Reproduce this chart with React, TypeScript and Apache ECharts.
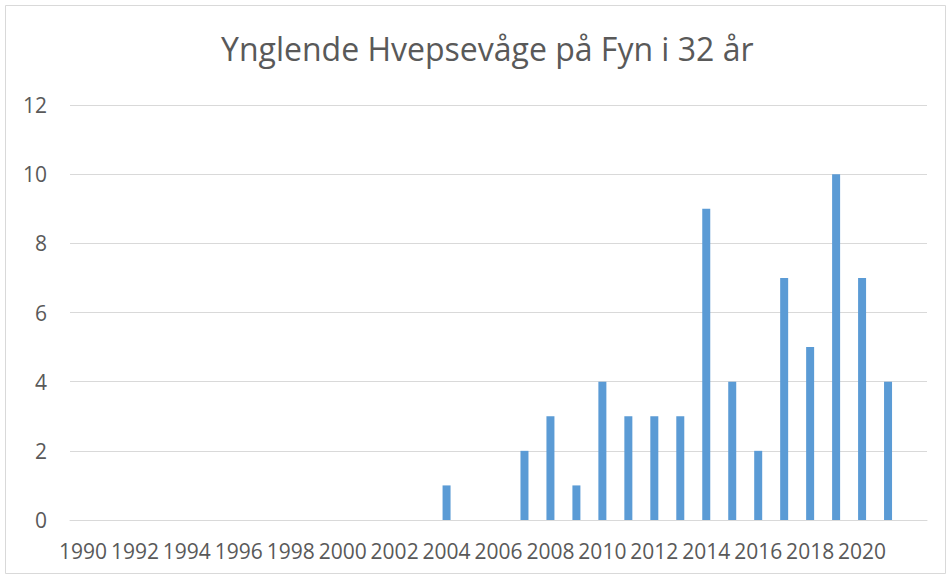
import React, { useEffect, useRef } from "react";
import * as echarts from "echarts";

const years: string[] = [
  "1990", "1991", "1992", "1993", "1994", "1995", "1996", "1997", "1998", "1999",
  "2000", "2001", "2002", "2003", "2004", "2005", "2006", "2007", "2008", "2009",
  "2010", "2011", "2012", "2013", "2014", "2015", "2016", "2017", "2018", "2019",
  "2020", "2021", "",
];
const pairs: (number | null)[] = [
  0, 0, 0, 0, 0, 0, 0, 0, 0, 0,
  0, 0, 0, 0, 1, 0, 0, 2, 3, 1,
  4, 3, 3, 3, 9, 4, 2, 7, 5, 10,
  7, 4, null,
];
const titleText = "Ynglende Hvepsevåge på Fyn i 32 år";

export default function App() {
  const ref = useRef<HTMLDivElement>(null);
  useEffect(() => {
    document.body.style.margin = "0";
    const chart = echarts.init(ref.current!, null, { renderer: "svg" });
    const font = "'Open Sans', Calibri, sans-serif";
    chart.setOption({
      animation: false,
      backgroundColor: "#ffffff",
      title: {
        text: titleText,
        left: 216,
        top: 27,
        textStyle: { fontFamily: font, fontSize: 32, fontWeight: "normal", color: "#595959" },
      },
      graphic: [
        {
          type: "rect",
          shape: { x: 5.5, y: 5.5, width: 940, height: 568 },
          style: { fill: "none", stroke: "#D9D9D9", lineWidth: 1 },
          silent: true,
        },
      ],
      grid: { left: 70, right: 25, top: 105, bottom: 59, containLabel: false },
      xAxis: {
        type: "category",
        data: years,
        axisLine: { show: true, lineStyle: { color: "#D9D9D9", width: 1 } },
        axisTick: { show: false },
        axisLabel: {
          interval: 1,
          color: "#595959",
          fontFamily: font,
          fontSize: 21,
          margin: 20,
        },
      },
      yAxis: {
        type: "value",
        min: 0,
        max: 12,
        interval: 2,
        axisLine: { show: false },
        axisTick: { show: false },
        splitLine: { lineStyle: { color: "#D9D9D9", width: 1 } },
        axisLabel: { color: "#595959", fontFamily: font, fontSize: 21, margin: 23 },
      },
      series: [
        {
          type: "bar",
          data: pairs,
          barWidth: 8,
          itemStyle: { color: "#5B9BD5" },
        },
      ],
    });
    return () => chart.dispose();
  }, []);
  return <div ref={ref} style={{ width: 952, height: 579 }} />;
}
